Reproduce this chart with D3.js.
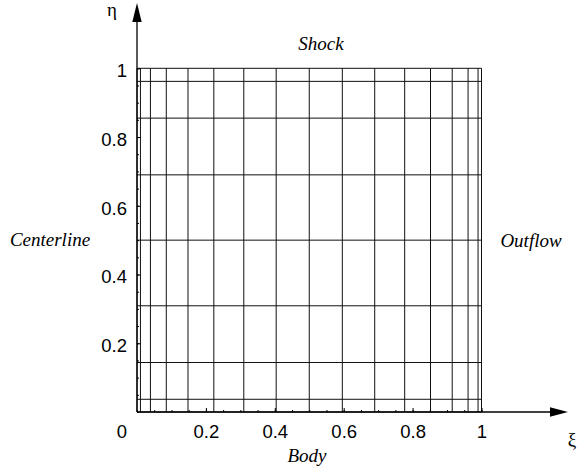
<!DOCTYPE html>
<html>
<head>
<meta charset="utf-8">
<script src="https://cdn.jsdelivr.net/npm/d3@7"></script>
<style>
  body { margin: 0; background: #fff; }
  svg { display: block; }
  .tick text { font-family: "Liberation Sans", Arial, sans-serif; font-size: 18.5px; fill: #000; }
  .lbl { font-family: "Liberation Serif", "Times New Roman", serif; font-style: italic; font-size: 19px; }
  .greek { font-family: "Liberation Serif", "DejaVu Serif", serif; font-size: 19px; }
</style>
</head>
<body>
<div id="viz"></div>
<script>
// grid line positions
var xiGrid = [0, 0.01, 0.039, 0.085, 0.148, 0.223, 0.31, 0.404, 0.5, 0.596, 0.69, 0.777, 0.852, 0.915, 0.961, 0.99, 1];
var etaGrid = [0, 0.037, 0.144, 0.309, 0.5, 0.69, 0.855, 0.962, 1];
var xiTicks = [0.2, 0.4, 0.6, 0.8, 1];
var etaTicks = [0.2, 0.4, 0.6, 0.8, 1];
var minorTicks = d3.range(0, 1.0001, 0.05);

var W = 586, H = 469;
var svg = d3.select("#viz").append("svg")
    .attr("width", W)
    .attr("height", H);

var x = d3.scaleLinear().domain([0, 1]).range([137, 481.5]);
var y = d3.scaleLinear().domain([0, 1]).range([412, 68.3]);

// grid
var grid = svg.append("g").attr("stroke", "#111").attr("stroke-width", 1);
grid.selectAll("line.v").data(xiGrid).enter().append("line")
    .attr("class", "v")
    .attr("x1", function(d) { return x(d); })
    .attr("x2", function(d) { return x(d); })
    .attr("y1", y(0))
    .attr("y2", y(1));
grid.selectAll("line.h").data(etaGrid).enter().append("line")
    .attr("class", "h")
    .attr("x1", x(0))
    .attr("x2", x(1))
    .attr("y1", function(d) { return y(d); })
    .attr("y2", function(d) { return y(d); });

// minor ticks
svg.append("g").attr("transform", "translate(0," + y(0) + ")")
    .call(d3.axisBottom(x).tickValues(minorTicks).tickSize(-2).tickFormat(""))
    .call(function(g) { g.select(".domain").remove(); });
svg.append("g").attr("transform", "translate(" + x(0) + ",0)")
    .call(d3.axisLeft(y).tickValues(minorTicks).tickSize(-2).tickFormat(""))
    .call(function(g) { g.select(".domain").remove(); });

// major ticks + labels
svg.append("g").attr("transform", "translate(0," + y(0) + ")")
    .call(d3.axisBottom(x).tickValues(xiTicks).tickSize(-4).tickPadding(12.5).tickFormat(d3.format("")))
    .call(function(g) { g.select(".domain").remove(); });
svg.append("g").attr("transform", "translate(" + x(0) + ",0)")
    .call(d3.axisLeft(y).tickValues(etaTicks).tickSize(-4).tickPadding(10).tickFormat(d3.format("")))
    .call(function(g) { g.select(".domain").remove(); g.selectAll(".tick text").attr("dy", "0.45em"); });

svg.append("text")
    .attr("x", x(0) - 15).attr("y", 438)
    .attr("text-anchor", "middle")
    .style("font-family", "'Liberation Sans', Arial, sans-serif")
    .style("font-size", "18.5px")
    .text("0");

// axes with arrows
svg.append("line").attr("x1", x(0)).attr("x2", 552).attr("y1", y(0)).attr("y2", y(0))
    .attr("stroke", "#000").attr("stroke-width", 1.3);
svg.append("path").attr("d", "M568," + y(0) + "L550," + (y(0) - 4.7) + "L550," + (y(0) + 4.7) + "Z")
    .attr("fill", "#000");
svg.append("line").attr("x1", x(0)).attr("x2", x(0)).attr("y1", y(0)).attr("y2", 20)
    .attr("stroke", "#000").attr("stroke-width", 1.3);
svg.append("path").attr("d", "M" + x(0) + ",3L" + (x(0) - 4.7) + ",22L" + (x(0) + 4.7) + ",22Z")
    .attr("fill", "#000");

svg.append("text").attr("class", "greek").attr("x", 112).attr("y", 16).attr("text-anchor", "middle").text("η");
svg.append("text").attr("class", "greek").attr("x", 572).attr("y", 446).attr("text-anchor", "middle").text("ξ");

// boundary names
svg.append("text").attr("class", "lbl").attr("x", 321).attr("y", 50).attr("text-anchor", "middle").text("Shock");
svg.append("text").attr("class", "lbl").attr("x", 307).attr("y", 462).attr("text-anchor", "middle").text("Body");
svg.append("text").attr("class", "lbl").attr("x", 50).attr("y", 246).attr("text-anchor", "middle").text("Centerline");
svg.append("text").attr("class", "lbl").attr("x", 531).attr("y", 247).attr("text-anchor", "middle").text("Outflow");
</script>
</body>
</html>
